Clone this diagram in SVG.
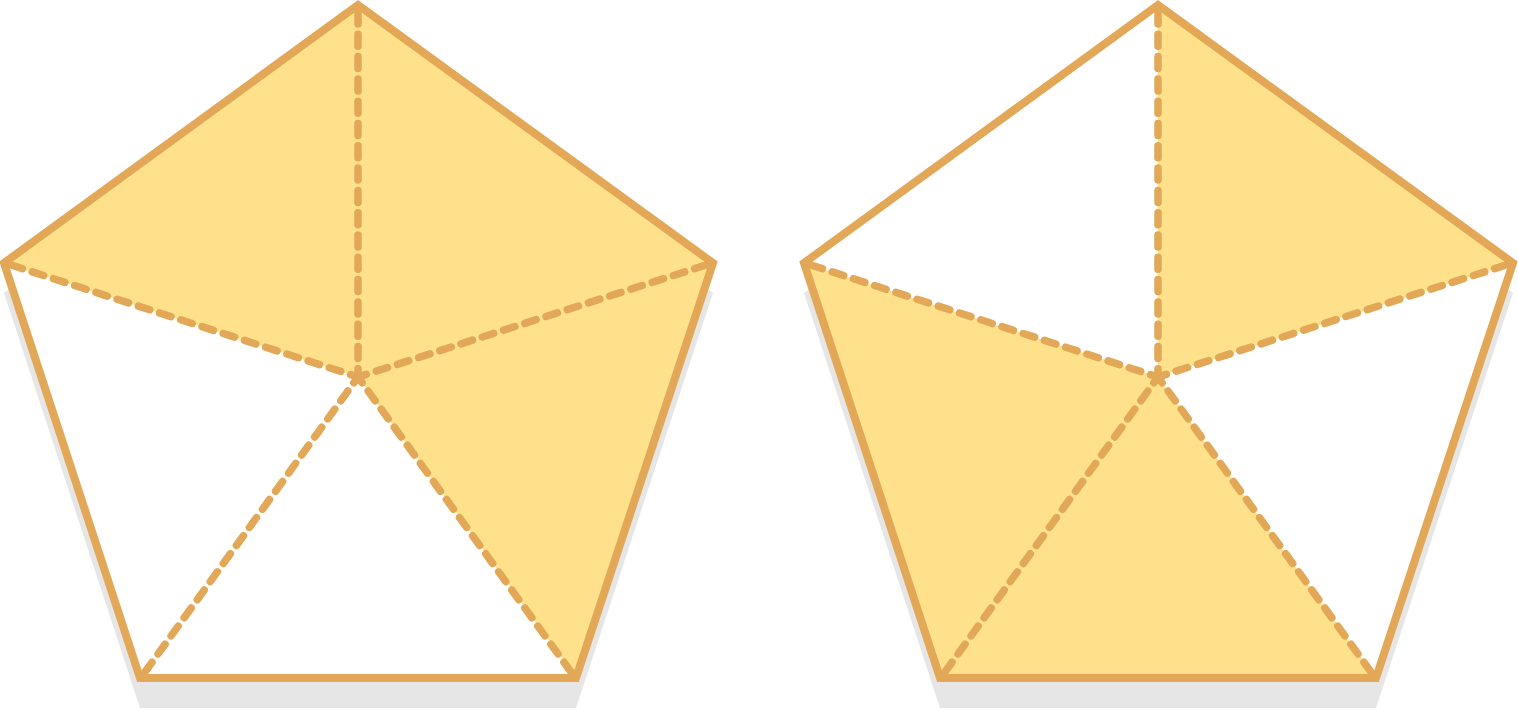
<svg xmlns="http://www.w3.org/2000/svg" width="1518" height="710" viewBox="0 0 1518 710">
<defs>
<style>
.shadow{fill:#e6e6e6;stroke:none}
.fill{fill:#fee18a;stroke:none}
.edge{fill:none;stroke:#e2a857;stroke-width:8;stroke-linejoin:miter}
.dash{fill:none;stroke:#e2a857;stroke-width:7.5;stroke-linecap:round;stroke-dasharray:12 10.3}
</style>
</defs>
<rect x="0" y="0" width="1518" height="710" fill="#ffffff"/>
<g id="pentagon-left">
<polygon class="shadow" points="358,35 4,293 140,708 576,708 713,293"/>
<polygon fill="#ffffff" points="358,5 4,263 140,678 576,678 713,263"/>
<polygon class="fill" points="358,5 4,263 358,377"/>
<polygon class="fill" points="358,5 713,263 358,377"/>
<polygon class="fill" points="713,263 576,678 358,377"/>
<g id="connectors-left">
<line class="dash" x1="358" y1="12" x2="358" y2="377"/>
<line class="dash" x1="11" y1="265" x2="358" y2="377"/>
<line class="dash" x1="706" y1="265" x2="358" y2="377"/>
<line class="dash" x1="145" y1="672" x2="358" y2="377"/>
<line class="dash" x1="571" y1="672" x2="358" y2="377"/>
</g>
<polygon class="edge" points="358,5 4,263 140,678 576,678 713,263"/>
</g>
<g id="pentagon-right">
<polygon class="shadow" points="1158,35 804,293 940,708 1376,708 1513,293"/>
<polygon fill="#ffffff" points="1158,5 804,263 940,678 1376,678 1513,263"/>
<polygon class="fill" points="1158,5 1513,263 1158,377"/>
<polygon class="fill" points="804,263 940,678 1158,377"/>
<polygon class="fill" points="940,678 1376,678 1158,377"/>
<g id="connectors-right">
<line class="dash" x1="1158" y1="12" x2="1158" y2="377"/>
<line class="dash" x1="811" y1="265" x2="1158" y2="377"/>
<line class="dash" x1="1506" y1="265" x2="1158" y2="377"/>
<line class="dash" x1="945" y1="672" x2="1158" y2="377"/>
<line class="dash" x1="1371" y1="672" x2="1158" y2="377"/>
</g>
<polygon class="edge" points="1158,5 804,263 940,678 1376,678 1513,263"/>
</g>
</svg>
